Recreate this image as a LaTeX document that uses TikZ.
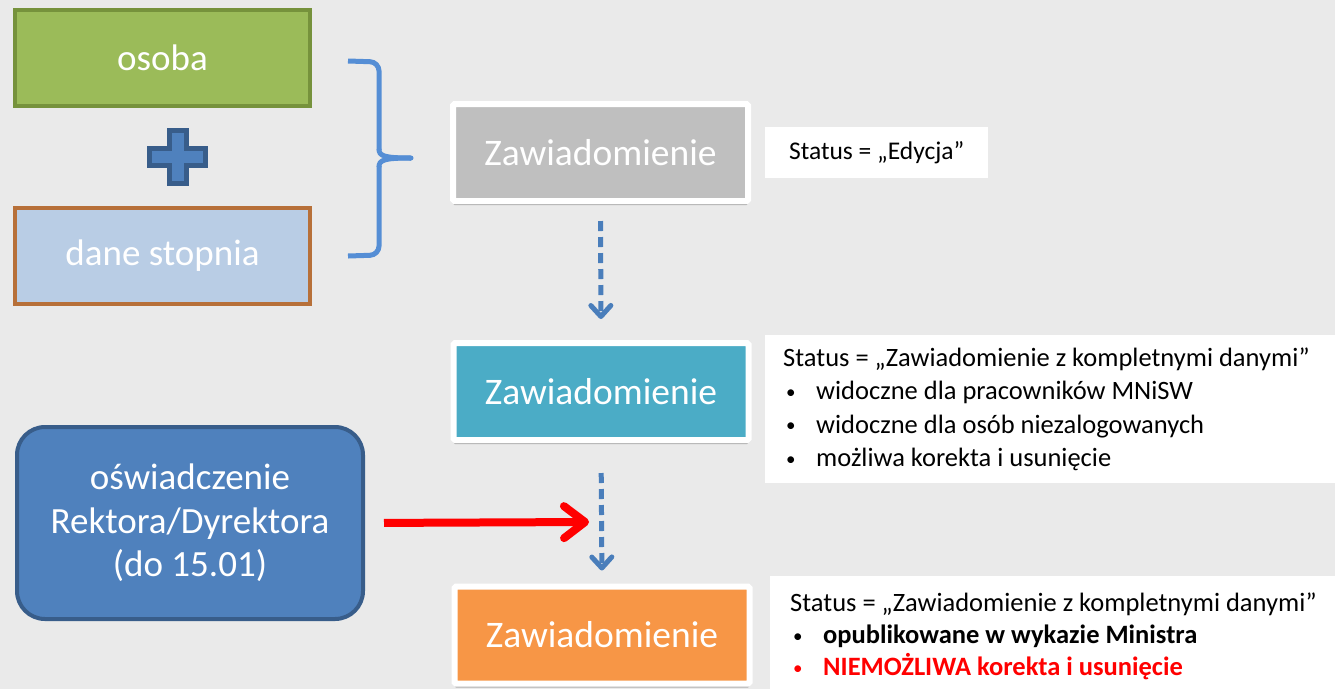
\documentclass[tikz,border=0pt]{standalone}
\usepackage{fontspec}
\setmainfont{Carlito}
\usetikzlibrary{arrows.meta,shadows}
\definecolor{bg}{HTML}{EAEAEA}
\definecolor{grfill}{HTML}{9BBB59}
\definecolor{grline}{HTML}{76923C}
\definecolor{blfill}{HTML}{4F81BD}
\definecolor{blline}{HTML}{385D8A}
\definecolor{lbfill}{HTML}{B9CDE5}
\definecolor{brline}{RGB}{183,112,57}
\definecolor{brace}{HTML}{558ED5}
\definecolor{gyfill}{HTML}{BFBFBF}
\definecolor{tlfill}{HTML}{4BACC6}
\definecolor{orfill}{HTML}{F79646}
\definecolor{dasharrowc}{HTML}{4A7EBB}
\newcommand\blt[1]{\makebox[33pt][l]{\hspace{3pt}\raisebox{1.5pt}{\fontsize{19}{19}\selectfont\textbullet}}#1}
\newcommand\natsp{\spaceskip=0pt\xspaceskip=0pt\relax}
\begin{document}
\begin{tikzpicture}[x=1pt,y=-1pt,
  colbox/.style={line width=4pt, minimum width=295pt, minimum height=96pt, inner sep=0pt,
    text=white, font=\fontsize{37}{44}\selectfont},
  zaw/.style={draw=white, line width=6pt, rounded corners=1.5pt, minimum width=295pt,
    minimum height=97pt, inner sep=0pt, text=white, font=\fontsize{37.5}{44}\selectfont,
    drop shadow={shadow xshift=0pt, shadow yshift=-4pt, opacity=0.25, fill=black}},
  status/.style={fill=white, anchor=north west, align=left, inner ysep=0pt,
    font=\fontsize{26.5}{33.5}\selectfont},
  dasharrow/.style={draw=dasharrowc, line width=5pt, dash pattern=on 10pt off 6pt,
    -{Straight Barb[length=11pt, width=20pt, line width=5pt, round]}},
  redarrow/.style={draw=red, line width=8pt,
    -{Straight Barb[length=21pt, width=32pt, line width=8pt, round]}}
]
\useasboundingbox[fill=bg] (0,0) rectangle (1335,689);

% left boxes
\node[colbox, draw=grline, fill=grfill] (osoba) at (162.5,58) {osoba};
\node[colbox, draw=brline, fill=lbfill] (dane) at (162.5,256) {dane stopnia};

% plus sign
\draw[line width=5pt, draw=blline, fill=blfill]
  (169.5,130.5) -- (186.5,130.5) -- (186.5,148.5) -- (205.5,148.5) -- (205.5,165.5)
  -- (186.5,165.5) -- (186.5,183.5) -- (169.5,183.5) -- (169.5,165.5) -- (149.5,165.5)
  -- (149.5,148.5) -- (169.5,148.5) -- cycle;

% brace
\draw[brace, line width=5pt, rounded corners=9pt]
  (348,61) -- (379,62) -- (379,150);
\draw[brace, line width=5pt]
  (379,149) .. controls (379,156) and (384,158) .. (411,158);
\draw[brace, line width=5pt]
  (411,158) .. controls (384,158) and (379,160) .. (379,167);
\draw[brace, line width=5pt, rounded corners=9pt]
  (379,166) -- (379,255) -- (348,256);
\fill[brace] (411,158) circle (2.5pt);

% Zawiadomienie boxes
\node[zaw, fill=gyfill] (z1) at (600.5,152.5) {Zawiadomienie};
\node[zaw, fill=tlfill] (z2) at (601,391.5) {Zawiadomienie};
\node[zaw, fill=orfill] (z3) at (602,635) {Zawiadomienie};

% statement box
\node[draw=blline, fill=blfill, line width=4pt, rounded corners=28pt, minimum width=346pt,
  minimum height=192pt, text=white, align=center,
  font=\fontsize{37}{43.5}\selectfont] (osw) at (190,523)
  {oświadczenie\\Rektora/Dyrektora\\(do 15.01)};

% status boxes
\node[status, inner xsep=20pt, minimum width=223pt, minimum height=51pt,
  font=\fontsize{25.5}{33.5}\selectfont] (s1) at (765,127) {Status = „Edycja”};
\node[status, inner xsep=18pt, text width=560pt, minimum height=148pt] (s2) at (765,335)
  {\natsp Status = „Zawiadomienie z kompletnymi danymi”\\
   \blt{widoczne dla pracowników MNiSW}\\
   \blt{widoczne dla osób niezalogowanych}\\
   \blt{możliwa korekta i usunięcie}};
\node[status, inner xsep=20pt, text width=560pt, inner ysep=17pt,
  font=\fontsize{26.5}{32}\selectfont] (s3) at (770,576)
  {\natsp Status = „Zawiadomienie z kompletnymi danymi”\\
   \blt{\textbf{opublikowane w wykazie Ministra}}\\
   {\color{red}\blt{\textbf{NIEMOŻLIWA korekta i usunięcie}}}};

% arrows
\draw[dasharrow, shorten <=17pt, shorten >=21pt] (z1.south) -- (z2.north);
\draw[dasharrow, shorten <=30pt, shorten >=13pt] (z2.south) -- (z3.north);
\coordinate (redend) at (589,522);
\draw[redarrow, shorten <=19pt] (osw.east) -- (redend);
\end{tikzpicture}
\end{document}
